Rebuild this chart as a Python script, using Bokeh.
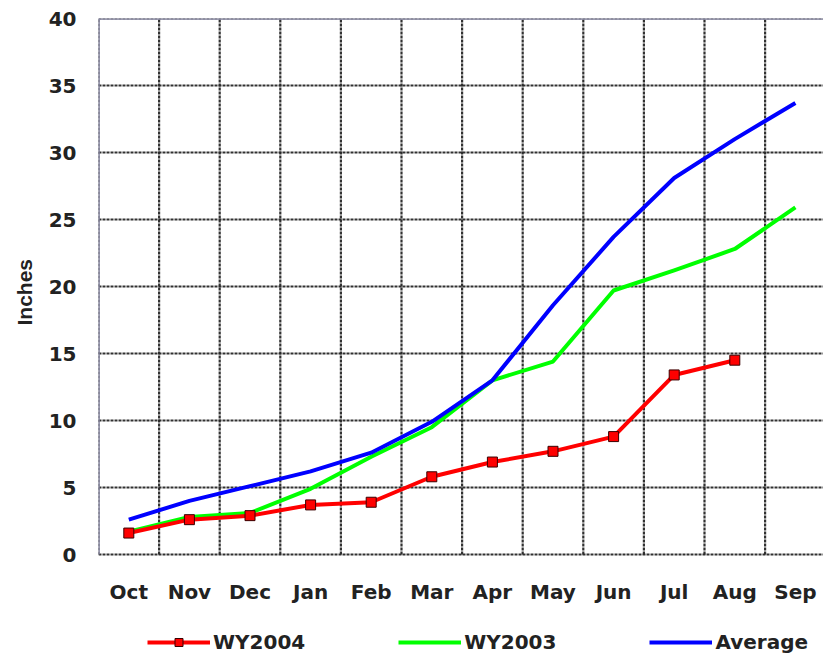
from bokeh.plotting import figure
from bokeh.models import FixedTicker, Range1d, Legend, LegendItem, Title
from bokeh.embed import file_html
from bokeh.resources import INLINE

months = ["Oct", "Nov", "Dec", "Jan", "Feb", "Mar", "Apr", "May", "Jun", "Jul", "Aug", "Sep"]
wy2004 = [1.6, 2.6, 2.9, 3.7, 3.9, 5.8, 6.9, 7.7, 8.8, 13.4, 14.5]
wy2003 = [1.7, 2.8, 3.1, 4.9, 7.3, 9.5, 13.0, 14.4, 19.7, 21.2, 22.8, 25.9]
average = [2.6, 4.0, 5.1, 6.2, 7.6, 9.9, 13.0, 18.6, 23.7, 28.1, 31.0, 33.7]
y_ticks = [0, 5, 10, 15, 20, 25, 30, 35, 40]
y_title = "Inches"

n = len(months)
xs = [i + 0.5 for i in range(n)]          # category centres
bounds_x = list(range(n + 1))             # category boundaries (grid)

FONT = "DejaVu Sans"
TXT = "#222222"
GRID = "#262626"
BORDER = "#8a8aa6"

PX_PER_UNIT = 13.4   # vertical scale in pixels per inch
y_min = -(658 - 554) / PX_PER_UNIT        # room below zero for labels and legend

p = figure(width=823, height=658, output_backend="svg", toolbar_location=None,
           x_range=Range1d(0, 725 / 60.6), y_range=Range1d(y_min, y_ticks[-1]),
           min_border_left=98, min_border_top=18, min_border_right=0,
           min_border_bottom=0)
p.background_fill_color = "white"
p.border_fill_color = "white"
p.outline_line_color = None
p.xgrid.visible = False
p.ygrid.visible = False

# grid drawn over the data area only
p.segment(x0=bounds_x, y0=[y_ticks[0]] * len(bounds_x), x1=bounds_x,
          y1=[y_ticks[-1]] * len(bounds_x),
          line_color=GRID, line_dash="3 1", line_width=2.2, line_alpha=0.95)
p.segment(x0=[0] * len(y_ticks), y0=y_ticks, x1=[n] * len(y_ticks), y1=y_ticks,
          line_color=GRID, line_dash="3 1", line_width=2.2, line_alpha=0.95)
# left and top frame lines
p.segment(x0=[0, 0], y0=[y_ticks[0], y_ticks[-1]], x1=[0, n], y1=[y_ticks[-1], y_ticks[-1]],
          line_color=BORDER, line_width=2.5)

# axes
p.xaxis.ticker = FixedTicker(ticks=xs)
p.xaxis.major_label_overrides = {x: m for x, m in zip(xs, months)}
p.xaxis.fixed_location = 0
p.yaxis.ticker = FixedTicker(ticks=y_ticks)
for ax in (p.xaxis, p.yaxis):
    ax.axis_line_color = None
    ax.major_tick_line_color = None
    ax.minor_tick_line_color = None
    ax.major_tick_out = 0
    ax.major_tick_in = 0
    ax.major_label_text_font = FONT
    ax.major_label_text_font_style = "bold"
    ax.major_label_text_font_size = "20px"
    ax.major_label_text_color = TXT
p.xaxis.major_label_standoff = 25
p.yaxis.major_label_standoff = 22

# y axis title, placed along the 0-40 span rather than the whole frame
p.add_layout(Title(text=y_title, align="left", offset=333, standoff=20,
                   text_font="Liberation Sans", text_font_style="bold",
                   text_font_size="21px", text_color=TXT), "left")

# series
g_line = p.line(xs[:len(wy2003)], wy2003, line_color="#00ff00", line_width=4, line_join="round")
b_line = p.line(xs[:len(average)], average, line_color="#0000ff", line_width=4, line_join="round")
r_line = p.line(xs[:len(wy2004)], wy2004, line_color="#ff0000", line_width=4, line_join="round")
r_mark = p.scatter(xs[:len(wy2004)], wy2004, marker="square", size=10,
                   fill_color="#ff0000", line_color="#3a0000", line_width=1)

legend = Legend(items=[
    LegendItem(label="WY2004", renderers=[r_line, r_mark]),
    LegendItem(label="WY2003", renderers=[g_line]),
    LegendItem(label="Average", renderers=[b_line]),
], orientation="horizontal", location=(49, 4))
legend.border_line_color = None
legend.background_fill_alpha = 0
legend.padding = 0
legend.margin = 0
legend.spacing = 93
legend.glyph_width = 63
legend.glyph_height = 20
legend.label_height = 20
legend.label_standoff = 3
legend.label_text_font = FONT
legend.label_text_font_style = "bold"
legend.label_text_font_size = "20px"
legend.label_text_color = TXT
p.add_layout(legend, "center")

open("out.html", "w").write(file_html(p, INLINE))
